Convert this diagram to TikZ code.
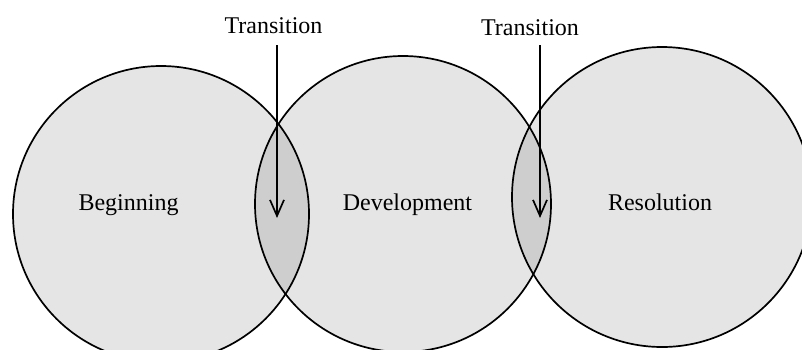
\documentclass[tikz,border=0pt]{standalone}
\usepackage{fontspec}
\setmainfont{Liberation Serif}
\usepackage{tikz}
\usetikzlibrary{arrows.meta}

\begin{document}
\begin{tikzpicture}[x=0.5pt, y=-0.5pt, line width=0.85pt,
        >={Straight Barb[length=8pt,width=7pt]},
        lbl/.style={anchor=base, font=\fontsize{12}{14}\selectfont, inner sep=0pt}]
    \useasboundingbox (0,0) rectangle (802,349);
    \clip (0,0) rectangle (802,349);

    % Circles (fill first so the overlaps get darker)
    \fill[black, fill opacity=0.1] (161,214) circle (148);
    \fill[black, fill opacity=0.1] (403,204) circle (148);
    \fill[black, fill opacity=0.1] (662,197) circle (150);
    \draw (161,214) circle (148); % Beginning
    \draw (403,204) circle (148); % Development
    \draw (662,197) circle (150); % Resolution

    % Stage labels
    \node[lbl] (beg) at (128.5,210) {Beginning};
    \node[lbl] (dev) at (407.5,210) {Development};
    \node[lbl] (res) at (660,210) {Resolution};

    % Transitions
    \node[lbl] (trans1) at (273.5,33) {Transition};
    \coordinate (tip1) at (277,218);
    \draw[->] (tip1 |- 0,45) -- (tip1);

    \node[lbl] (trans2) at (530,35) {Transition};
    \coordinate (tip2) at (540,218);
    \draw[->] (tip2 |- 0,45) -- (tip2);
\end{tikzpicture}
\end{document}
